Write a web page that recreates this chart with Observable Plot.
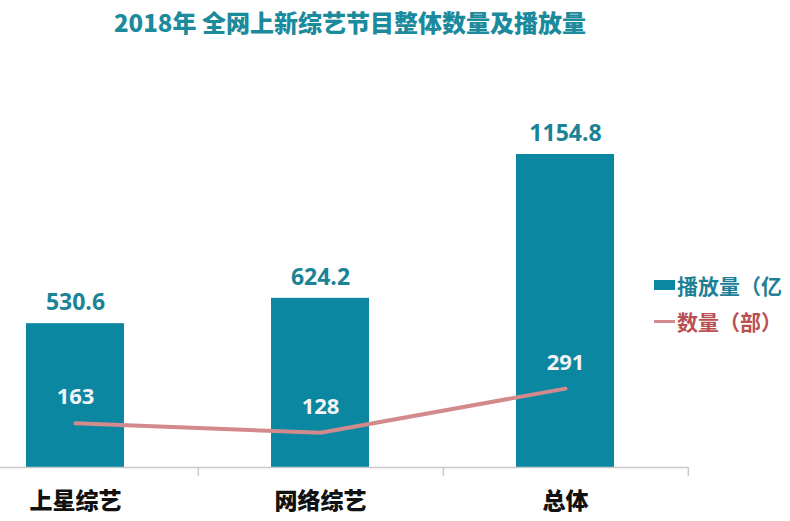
<!DOCTYPE html>
<html><head><meta charset="utf-8">
<script src="https://cdn.jsdelivr.net/npm/d3@7"></script>
<script src="https://cdn.jsdelivr.net/npm/@observablehq/plot@0.6"></script>
<style>
body{margin:0;background:#fff;width:790px;height:521px;overflow:hidden;position:relative;font-family:"Noto Sans CJK SC",sans-serif}
#title{height:44px;line-height:44px;padding-left:114px;font-size:24px;font-weight:900;color:#1b8a9c;white-space:nowrap}
#legend{position:absolute;left:654px;top:267px;font-size:21px;font-weight:bold}
.row{display:flex;align-items:center;height:36px;white-space:nowrap}
.sw{width:21px;margin-right:2px}
</style></head>
<body>
<div id="title">2018年 全网上新综艺节目整体数量及播放量</div>
<div id="chart"></div>
<div id="legend"></div>
<script>
const categories = ["上星综艺", "网络综艺", "总体"];
const views = [530.6, 624.2, 1154.8];
const counts = [163, 128, 291];
const legendLabels = ["播放量（亿", "数量（部）"];
const barColor = "#0b87a2", lineColor = "#d38a8c";

const data = categories.map((c, i) => ({cat: c, views: views[i], count: counts[i]}));

const W = 790, H = 477;
const xRange = [-49, 688];
const step = (xRange[1] - xRange[0]) / categories.length;

const chart = Plot.plot({
  width: W, height: H,
  marginLeft: 0, marginRight: 102, marginTop: 110, marginBottom: 54,
  style: {fontFamily: "'Open Sans', 'Noto Sans CJK SC', sans-serif", background: "transparent"},
  x: {domain: categories, range: xRange, paddingInner: 0.6, paddingOuter: 0.3, axis: null},
  y: {domain: [0, d3.max(views)], axis: null},
  marks: [
    Plot.barY(data, {x: "cat", y: "views", fill: barColor}),
    Plot.ruleY([0], {stroke: "#c9c9c9", strokeWidth: 1.5}),
    Plot.axisX({tickSize: 9, tickFormat: () => "", label: null, dx: step / 2, stroke: "#c9c9c9", strokeWidth: 1.5}),
    Plot.line(data, {x: "cat", y: "count", stroke: lineColor, strokeWidth: 4}),
    Plot.text(data, {x: "cat", y: "views", text: d => d.views.toFixed(1), dy: -21, fill: "#1b8396", fontSize: 23, fontWeight: "bold"}),
    Plot.text(data, {x: "cat", y: "count", text: d => String(d.count), dy: -26, fill: "#f4f4f4", fontSize: 22, fontWeight: "bold"}),
    Plot.text(categories, {x: d => d, frameAnchor: "bottom", dy: 41, fill: "#111", fontSize: 23, fontWeight: 900, fontFamily: "'Noto Sans CJK SC', sans-serif"})
  ]
});
document.getElementById("chart").appendChild(chart);

const legend = document.getElementById("legend");
legendLabels.forEach((lab, i) => {
  const row = document.createElement("div");
  row.className = "row";
  const sw = document.createElement("span");
  sw.className = "sw";
  if (i === 0) { sw.style.height = "10px"; sw.style.background = barColor; }
  else { sw.style.height = "3px"; sw.style.background = lineColor; }
  const t = document.createElement("span");
  t.textContent = lab;
  t.style.color = i === 0 ? "#1d8095" : "#b94f52";
  row.appendChild(sw); row.appendChild(t);
  legend.appendChild(row);
});
</script>
</body></html>
